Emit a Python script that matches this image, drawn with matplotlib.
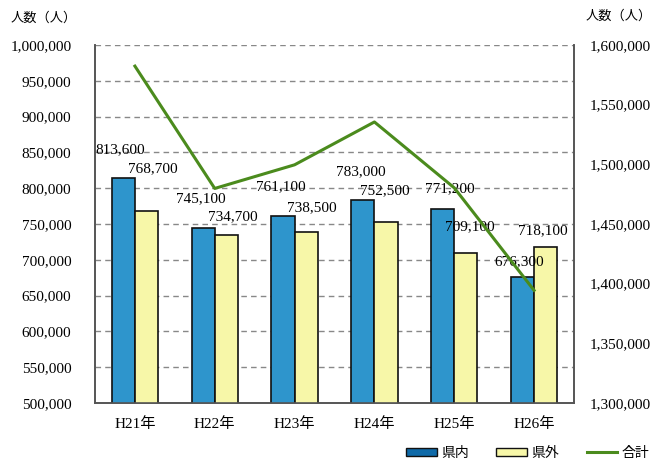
import numpy as np
import matplotlib.pyplot as plt
from matplotlib.patches import Patch
from matplotlib.lines import Line2D
from matplotlib.ticker import FuncFormatter

years = ["H21年", "H22年", "H23年", "H24年", "H25年", "H26年"]
inside = [813600, 745100, 761100, 783000, 771200, 676300]
outside = [768700, 734700, 738500, 752500, 709100, 718100]
total = [1582300, 1479800, 1499600, 1535500, 1480300, 1394400]

FONT = ["Liberation Serif", "Noto Sans CJK JP", "DejaVu Sans"]
plt.rcParams["font.family"] = FONT

blue = "#2e95cc"
yellow = "#f7f7a8"
green = "#4b8b1d"

fig = plt.figure(figsize=(6.56, 4.63), dpi=100)
ax = fig.add_axes([95 / 656, 60 / 463, 479 / 656, 358 / 463])
ax2 = ax.twinx()

x = np.arange(len(years))
w = 0.29
ax.bar(x - w / 2, inside, w, color=blue, edgecolor="#111111", linewidth=1.2, zorder=3)
ax.bar(x + w / 2, outside, w, color=yellow, edgecolor="#111111", linewidth=1.2, zorder=3)
ax2.plot(x, total, color=green, linewidth=2.2, zorder=4)

ax.set_xlim(-0.5, 5.5)
ax.set_ylim(500000, 1000000)
ax.set_yticks(np.arange(500000, 1000001, 50000))
ax2.set_ylim(1300000, 1600000)
ax2.set_yticks(np.arange(1300000, 1600001, 50000))
fmt = FuncFormatter(lambda v, p: f"{int(v):,}")
ax.yaxis.set_major_formatter(fmt)
ax2.yaxis.set_major_formatter(fmt)
ax.set_xticks(x)
ax.set_xticklabels(years)

ax.grid(axis="y", linestyle=(0, (4, 3)), color="#888888", linewidth=1, zorder=0)
ax.set_axisbelow(True)
for a in (ax, ax2):
    a.spines["top"].set_visible(False)
    for s in ("left", "right", "bottom"):
        a.spines[s].set_color("#555555")
        a.spines[s].set_linewidth(1.2)
    a.tick_params(length=0, labelsize=11)
ax.tick_params(axis="y", pad=17)
ax.tick_params(axis="x", pad=10)
ax2.tick_params(axis="y", pad=11)

# data label offsets from bar tops (pixels: right, up)
off_in = [(-3, 29), (-2, 29), (-2, 29), (-2, 29), (7, 20), (-3, 15)]
off_out = [(6, 42), (6, 18), (6, 25), (-1, 32), (4, 27), (-3, 16)]
for i in range(len(years)):
    ax.annotate(f"{inside[i]:,}", (x[i] - w / 2, inside[i]),
                xytext=(off_in[i][0] * 0.72, off_in[i][1] * 0.72),
                textcoords="offset points", ha="center", va="center", fontsize=11, zorder=5)
    ax.annotate(f"{outside[i]:,}", (x[i] + w / 2, outside[i]),
                xytext=(off_out[i][0] * 0.72, off_out[i][1] * 0.72),
                textcoords="offset points", ha="center", va="center", fontsize=11, zorder=5)

fig.text(44 / 656, 1 - 18 / 463, "人数（人）", ha="center", va="center", fontsize=9.5)
fig.text(619 / 656, 1 - 16 / 463, "人数（人）", ha="center", va="center", fontsize=9.5)

handles = [Patch(facecolor="#0f6aa8", edgecolor="#111111"),
           Patch(facecolor=yellow, edgecolor="#111111"),
           Line2D([], [], color=green, linewidth=2.2)]
fig.legend(handles, ["県内", "県外", "合計"], loc="center right",
           bbox_to_anchor=(1.0, 1 - 453 / 463), borderaxespad=0.1,
           ncol=3, frameon=False, fontsize=10, handlelength=2.2, handleheight=0.5,
           columnspacing=2.0, handletextpad=0.3)

fig.savefig("out.png", dpi=100)
